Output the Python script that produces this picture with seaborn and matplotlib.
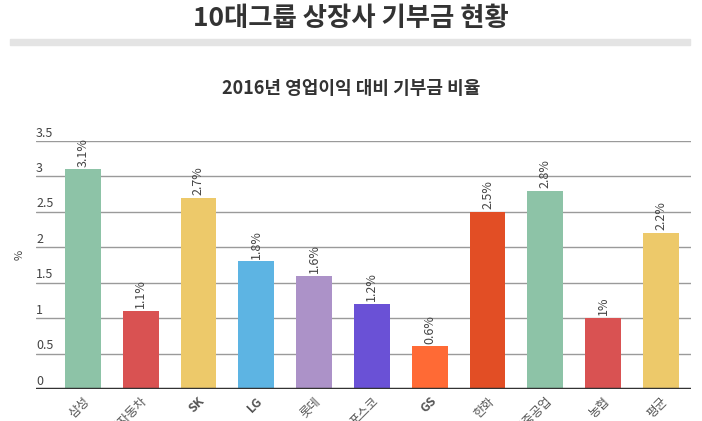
import matplotlib
matplotlib.use('Agg')
import matplotlib.pyplot as plt
from matplotlib.patches import Rectangle
import matplotlib.transforms as mtransforms
import seaborn as sns
import pandas as pd

# chart data
groups = ['삼성', '현대자동차', 'SK', 'LG', '롯데', '포스코', 'GS', '한화', '현대중공업', '농협', '평균']
ratio = [3.1, 1.1, 2.7, 1.8, 1.6, 1.2, 0.6, 2.5, 2.8, 1.0, 2.2]
bar_colors = ['#8DC3A7', '#D95252', '#EDC96A', '#5DB4E3', '#AC92C8', '#6A51D6',
              '#FF6A35', '#E24E25', '#8DC3A7', '#D95252', '#EDC96A']
y_ticks = [0, 0.5, 1, 1.5, 2, 2.5, 3, 3.5]
y_tick_labels = ['0', '0.5', '1', '1.5', '2', '2.5', '3', '3.5']

title = '10대그룹 상장사 기부금 현황'
subtitle = '2016년 영업이익 대비 기부금 비율'

sns.set_style('white')
plt.rcParams['font.family'] = ['Noto Sans CJK KR', 'DejaVu Sans']

df = pd.DataFrame({'group': groups, 'ratio': ratio})

fig = plt.figure(figsize=(7.02, 4.21), dpi=100)
ax = fig.add_axes([36 / 702, 32 / 421, 655 / 702, 248 / 421])

sns.barplot(data=df, x='group', y='ratio', hue='group', palette=bar_colors,
            legend=False, width=0.62, saturation=1, linewidth=0, ax=ax)

# value labels above bars
for cont, v in zip(ax.containers, ratio):
    ax.bar_label(cont, labels=[f'{v:g}%'], rotation=90, padding=2,
                 fontsize=9, color='#444444')

ax.set_ylim(0, 3.5)
ax.set_xlim(-0.81, 10.52)
ax.set_yticks(y_ticks)
ax.set_yticklabels(y_tick_labels)
ax.yaxis.grid(True, color='#9a9a9a', linewidth=1)
ax.set_axisbelow(True)
ax.axhline(0, color='#333333', linewidth=2.5, zorder=5)
for s in ax.spines.values():
    s.set_visible(False)

# y tick labels sit inside the plot, just above their gridline
ax.tick_params(axis='y', length=0, pad=0, labelsize=9, labelcolor='#444444')
shift = mtransforms.ScaledTranslation(0, 1 / 72, fig.dpi_scale_trans)
for lbl in ax.get_yticklabels():
    lbl.set_ha('left')
    lbl.set_va('bottom')
    lbl.set_transform(lbl.get_transform() + shift)

ax.tick_params(axis='x', length=0, pad=4, labelsize=9, labelcolor='#555555')
for lbl in ax.get_xticklabels():
    lbl.set_rotation(45)
    lbl.set_ha('right')
    lbl.set_rotation_mode('anchor')
    if lbl.get_text() in ('SK', 'LG', 'GS'):
        lbl.set_fontweight('bold')
ax.set_xlabel('')
ax.set_ylabel('')

fig.text(20 / 702, 1 - 255 / 421, '%', rotation=90, ha='center', va='center',
         fontsize=8, color='#444444')

# headline and divider bar
fig.text(0.5, 1 - 19 / 421, title, ha='center', va='center',
         fontsize=19, fontweight='bold', color='#333333')
fig.patches.append(Rectangle((10 / 702, 1 - 45 / 421), 680 / 702, 6 / 421,
                             transform=fig.transFigure, color='#e4e4e4', zorder=0))
fig.text(0.5, 1 - 88 / 421, subtitle, ha='center', va='center',
         fontsize=13, fontweight='bold', color='#333333')

fig.savefig('out.png', dpi=100)
